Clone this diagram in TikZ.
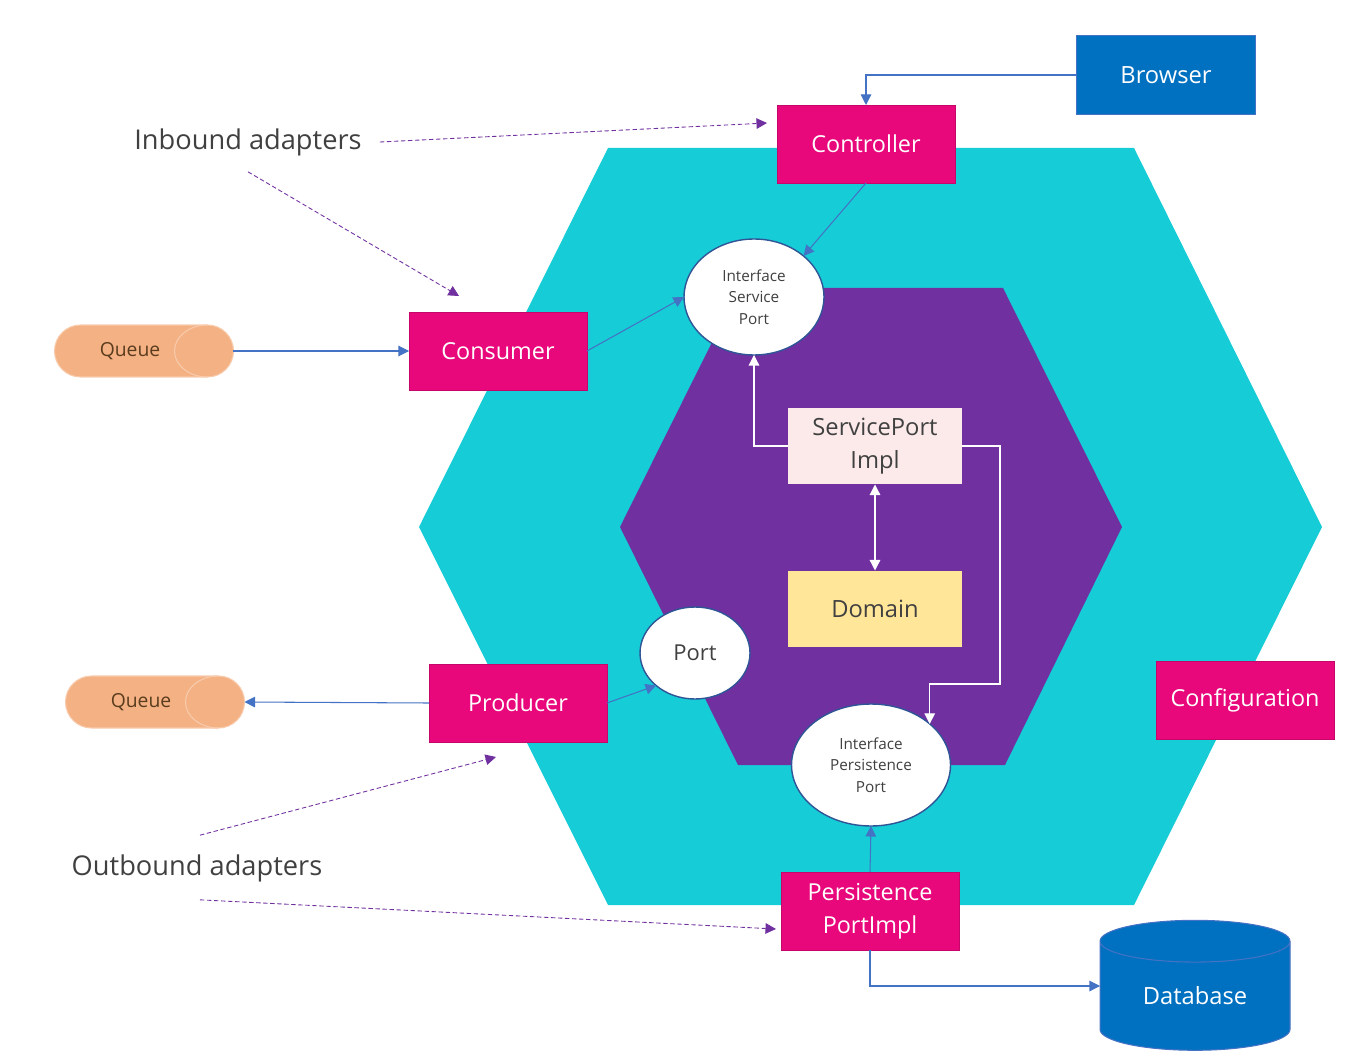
\documentclass[tikz,border=0pt]{standalone}
\usepackage{fontspec}
\setmainfont{Open Sans}
\usetikzlibrary{arrows.meta,shapes.geometric,shapes.misc}

\definecolor{hexcyan}{RGB}{22,204,215}
\definecolor{hexpurple}{RGB}{112,48,160}
\definecolor{adpink}{RGB}{232,8,124}
\definecolor{brwblue}{RGB}{0,112,192}
\definecolor{linkblue}{RGB}{68,114,196}
\definecolor{portblue}{RGB}{47,85,151}
\definecolor{textgray}{RGB}{64,64,64}
\definecolor{spipink}{RGB}{252,234,234}
\definecolor{domyellow}{RGB}{255,230,153}
\definecolor{qorange}{RGB}{244,177,131}
\definecolor{qedge}{RGB}{248,203,173}
\definecolor{qtext}{RGB}{90,60,30}

\begin{document}
\begin{tikzpicture}[x=0.02cm,y=-0.02cm,
  adapter/.style={rectangle,fill=adpink,draw=adpink!85!black,line width=0.4pt,text=white,
    minimum width=3.56cm,minimum height=1.56cm,inner sep=0pt,outer sep=0pt,
    font=\fontsize{13.3}{19}\selectfont,align=center},
  port/.style={ellipse,fill=white,draw=portblue,line width=0.8pt,text=textgray,
    inner sep=0pt,outer sep=0pt,align=center},
  core/.style={rectangle,text=textgray,minimum width=3.5cm,minimum height=1.54cm,
    inner sep=0pt,outer sep=0pt,font=\fontsize{13.5}{19}\selectfont,align=center},
  queue/.style={rounded rectangle,fill=qorange,draw=qedge,line width=0.6pt,text=qtext,
    minimum width=3.58cm,minimum height=1.04cm,inner sep=0pt,outer sep=0pt,
    font=\fontsize{11}{13}\selectfont,execute at begin node=\hspace*{-0.56cm}},
  link/.style={draw=linkblue,line width=0.6pt,-{Triangle[width=6pt,length=6pt]}},
  wire/.style={draw=white,line width=0.7pt,-{Triangle[width=6pt,length=6pt]}},
  hint/.style={draw=hexpurple,dash pattern=on 2.5pt off 1.5pt,line width=0.5pt,
    -{Triangle[width=6pt,length=6pt]}},
  caption/.style={text=textgray,font=\fontsize{15.5}{18}\selectfont}
]
\useasboundingbox (0,0) rectangle (1365,1057);

% hexagons
\fill[hexcyan] (608,148) -- (1134,148) -- (1322,527) -- (1134,905) -- (608,905) -- (419,527) -- cycle;
\fill[hexpurple] (739,288) -- (1003,288) -- (1122,527) -- (1005,765) -- (738,765) -- (620,527) -- cycle;

% adapters
\node[adapter] (ctrl) at (866,144) {Controller};
\node[adapter] (cons) at (498,351) {Consumer};
\node[adapter] (prod) at (518,703) {Producer};
\node[adapter] (conf) at (1245,700) {Configuration};
\node[adapter] (ppi) at (870,911) {Persistence\\PortImpl};

% outside world
\node[rectangle,fill=brwblue,draw=linkblue,line width=0.4pt,text=white,minimum width=3.58cm,
  minimum height=1.58cm,inner sep=0pt,outer sep=0pt,font=\fontsize{13.5}{16}\selectfont]
  (brw) at (1166,75) {Browser};
\node[cylinder,shape border rotate=90,aspect=0.4,fill=brwblue,draw=linkblue,line width=0.6pt,
  text=white,minimum width=3.8cm,minimum height=2.6cm,inner sep=0pt,outer sep=0pt,
  font=\fontsize{13.5}{16}\selectfont] (db) at (1195,996) {Database};
\node[queue] (q1) at (144,351) {Queue};
\node[queue] (q2) at (155,702) {Queue};
\draw[qedge,line width=0.6pt] (q1.east) ++(-26,-26) arc[start angle=90,end angle=270,x radius=0.66cm,y radius=0.52cm];
\draw[qedge,line width=0.6pt] (q2.east) ++(-26,-26) arc[start angle=90,end angle=270,x radius=0.66cm,y radius=0.52cm];

% ports
\node[port,minimum width=2.8cm,minimum height=2.32cm,font=\fontsize{8.7}{12.2}\selectfont]
  (isp) at (754,297) {Interface\\Service\\Port};
\node[port,minimum width=2.2cm,minimum height=1.84cm,font=\fontsize{12.5}{15}\selectfont]
  (port) at (695,653) {Port};
\node[port,minimum width=3.18cm,minimum height=2.44cm,font=\fontsize{8.7}{12.2}\selectfont]
  (ipp) at (871,765) {Interface\\Persistence\\Port};

% core
\node[core,fill=spipink] (spi) at (875,446) {ServicePort\\Impl};
\node[core,fill=domyellow] (dom) at (875,609) {Domain};

% labels
\node[caption] (inb) at (248,142) {Inbound adapters};
\node[caption] (outb) at (197,868) {Outbound adapters};

% connectors
\draw[link] (brw.west) -| (ctrl.north);
\draw[link] (ctrl.south) -- (isp.north east);
\draw[link] (cons.east) -- (isp.west);
\draw[link] (q1.east) -- (cons.west);
\draw[link] (prod.west) -- (q2.east);
\draw[link] (prod.east) -- (port.south west);
\draw[link] (ppi.north) -- (ipp.south);
\draw[link] (ppi.south) |- ([shift={(0,-10)}]db.west);

\coordinate (turn) at (1000,684);
\draw[wire] (spi.west) -| (isp.south);
\draw[wire] (spi.east) -| (turn) -| (ipp.35);
\draw[wire,{Triangle[width=6pt,length=6pt]}-{Triangle[width=6pt,length=6pt]}] (spi.south) -- (dom.north);

% dashed hints
\draw[hint] ([shift={(12,0)}]inb.east) -- ([shift={(-10,18)}]ctrl.north west);
\draw[hint] ([shift={(0,10)}]inb.south) -- ([shift={(50,-16)}]cons.north west);
\draw[hint] ([shift={(3,-13)}]outb.north) -- ([shift={(67,15)}]prod.south west);
\draw[hint] ([shift={(3,12)}]outb.south) -- ([shift={(-5,18)}]ppi.west);
\end{tikzpicture}
\end{document}
